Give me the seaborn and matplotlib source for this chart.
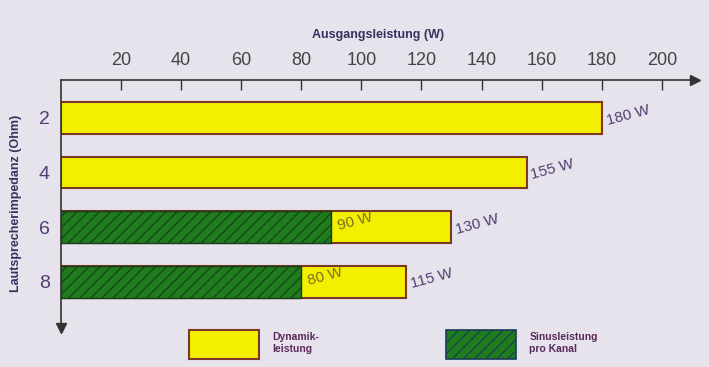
import numpy as np
import pandas as pd
import matplotlib.pyplot as plt
from matplotlib.patches import Patch
import seaborn as sns

# data
impedance = ['2', '4', '6', '8']
dynamik = [180, 155, 130, 115]
sinus = [0, 0, 90, 80]
xticks = [20, 40, 60, 80, 100, 120, 140, 160, 180, 200]

df = pd.DataFrame({'impedance': impedance, 'dynamik': dynamik, 'sinus': sinus})

bg = '#e7e3ec'
yellow = '#f4ef00'
green = '#1f7c1c'
edge = '#7a3a22'
txt = '#4d3f72'

sns.set_theme(style='white')
plt.rcParams['font.family'] = ['Liberation Sans', 'DejaVu Sans']
plt.rcParams['hatch.color'] = '#0f4a10'
plt.rcParams['hatch.linewidth'] = 0.8

fig = plt.figure(figsize=(7.09, 3.67), dpi=100, facecolor=bg)
ax = fig.add_axes([0.086, 0.107, 0.894, 0.675])
ax.set_facecolor(bg)

sns.barplot(data=df, y='impedance', x='dynamik', orient='h', color=yellow,
            edgecolor=edge, linewidth=1.5, width=0.58, saturation=1, ax=ax)
sinus_df = df[df['sinus'] > 0]
sns.barplot(data=sinus_df, y='impedance', x='sinus', orient='h', color=green,
            edgecolor='#1a3a1a', linewidth=1.0, width=0.58, saturation=1,
            hatch='///', order=impedance, ax=ax)

# value labels
for i, v in enumerate(dynamik):
    ax.text(v + 1, i - 0.05, f'{v} W', fontsize=11, color=txt, rotation=15,
            ha='left', va='center')
for i, v in enumerate(sinus):
    if v > 0:
        ax.text(v + 1.5, i - 0.1, f'{v} W', fontsize=11, color='#7a7020',
                rotation=15, ha='left', va='center')

ax.set_xlim(0, 211)
ax.set_ylim(3.84, -0.69)
ax.xaxis.tick_top()
ax.xaxis.set_label_position('top')
ax.set_xticks(xticks)
ax.tick_params(axis='x', direction='in', length=7, width=1, colors='#333',
               labelcolor='#444', labelsize=13, pad=8)
ax.tick_params(axis='y', length=0, labelsize=14, labelcolor=txt, pad=8)
ax.set_xlabel('Ausgangsleistung (W)', fontsize=9, fontweight='bold',
              color='#3a3060', labelpad=10)
ax.set_ylabel('Lautsprecherimpedanz (Ohm)', fontsize=9, fontweight='bold',
              color='#3a3060', labelpad=12)

for s in ['right', 'bottom']:
    ax.spines[s].set_visible(False)
for s in ['top', 'left']:
    ax.spines[s].set_color('#333')
    ax.spines[s].set_linewidth(1.2)
ax.plot(1, 1, '>', color='#333', ms=7, transform=ax.transAxes, clip_on=False)
ax.plot(0, 0, 'v', color='#333', ms=7, transform=ax.transAxes, clip_on=False)

handles = [Patch(facecolor=yellow, edgecolor=edge, linewidth=1.5, label='Dynamik-\nleistung'),
           Patch(facecolor=green, edgecolor='#1a3a5a', linewidth=1.2, hatch='///',
                 label='Sinusleistung\npro Kanal')]
fig.legend(handles=handles, loc='lower left', bbox_to_anchor=(0.253, -0.003), ncol=2,
           frameon=False, prop={'size': 7.5, 'weight': 'bold'}, handlelength=6.7,
           handleheight=3.9, columnspacing=12.2, handletextpad=1.3,
           labelcolor='#5a2a5a')

plt.savefig('out.png', dpi=100, facecolor=bg)
